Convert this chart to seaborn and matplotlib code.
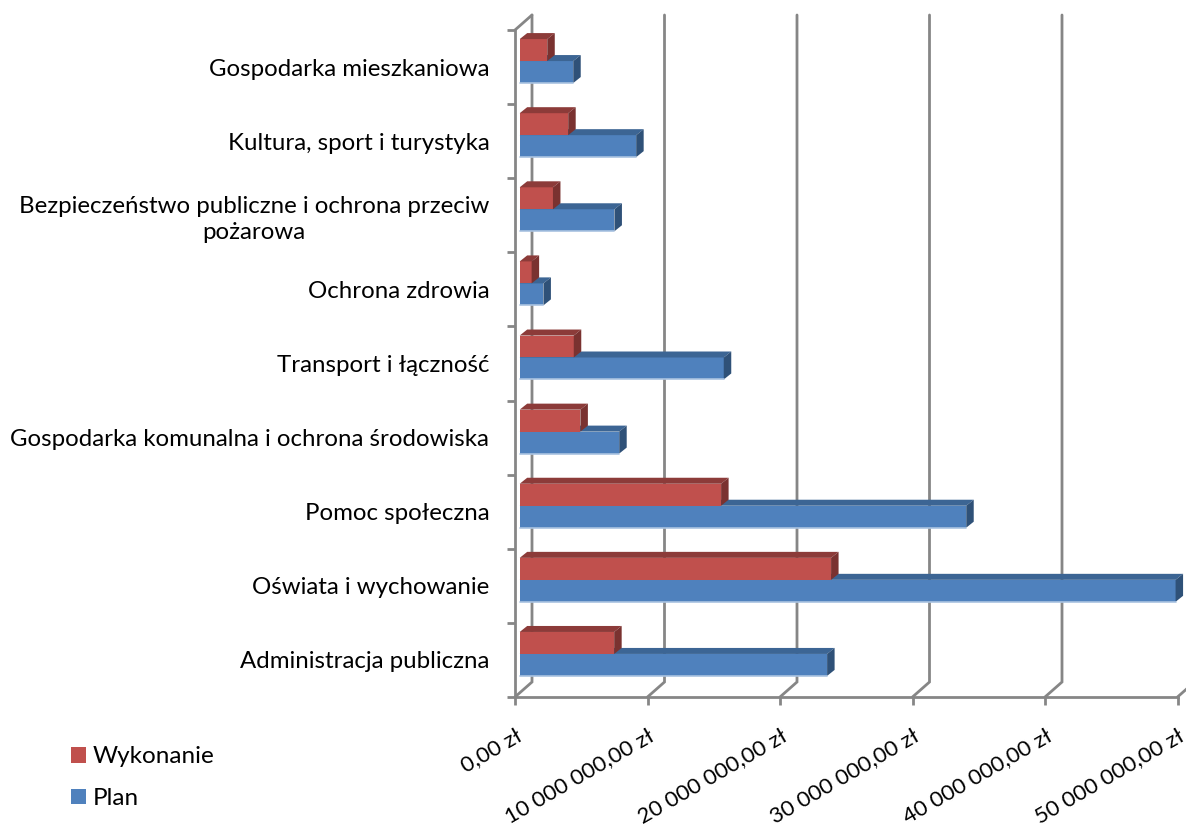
import pandas
import seaborn
import matplotlib.pyplot as plt
from matplotlib.patches import Polygon

categories = ['Gospodarka mieszkaniowa', 'Kultura, sport i turystyka',
              'Bezpieczeństwo publiczne i ochrona przeciw\npożarowa', 'Ochrona zdrowia',
              'Transport i łączność', 'Gospodarka komunalna i ochrona środowiska',
              'Pomoc społeczna', 'Oświata i wychowanie', 'Administracja publiczna']
wykonanie = [2080000, 3660000, 2510000, 900000, 4080000, 4580000, 15200000, 23500000, 7130000]
plan = [4040000, 8790000, 7150000, 1790000, 15400000, 7510000, 33700000, 49500000, 23200000]
x_ticks = [0, 10000000, 20000000, 30000000, 40000000, 50000000]
x_labels = ['0,00 zł', '10 000 000,00 zł', '20 000 000,00 zł', '30 000 000,00 zł',
            '40 000 000,00 zł', '50 000 000,00 zł']

W, H = 1186, 827
LEFT, RIGHT, TOP, BOTTOM = 515, 1177.5, 30, 697
GRAY = '#868686'
PX_X = 50000000 / (RIGHT - LEFT)  # zl per pixel
PX_Y = 9 / (BOTTOM - TOP)  # category per pixel

seaborn.set_style('white')
plt.rcParams['font.family'] = ['Lato', 'DejaVu Sans']

df = pandas.DataFrame({
    'category': categories * 2,
    'value': wykonanie + plan,
    'series': ['Wykonanie'] * len(categories) + ['Plan'] * len(categories),
})

fig = plt.figure(figsize=(W / 100, H / 100), dpi=100)
ax = fig.add_axes([LEFT / W, 1 - BOTTOM / H, (RIGHT - LEFT) / W, (BOTTOM - TOP) / H])
ax.patch.set_visible(False)

seaborn.barplot(df, x='value', y='category', hue='series', orient='y', ax=ax,
                hue_order=['Wykonanie', 'Plan'], palette=['#C0504D', '#4F81BD'],
                saturation=1, width=0.593, gap=0, linewidth=0)

ax.set_xlim(0, 50000000)
ax.set_ylim(8.5, -0.5)
ax.set_xlabel('')
ax.set_ylabel('')

# back wall lines with the slanted foot
back_x = 17 * PX_X
back_y = 15 * PX_Y
for t in x_ticks:
    ax.plot([t, t + back_x, t + back_x], [8.5, 8.5 - back_y, -0.5 - back_y],
            color=GRAY, lw=2, zorder=1, clip_on=False, solid_joinstyle='miter')
ax.plot([0, back_x], [-0.5, -0.5 - back_y], color=GRAY, lw=2, zorder=1, clip_on=False)

# fake 3d on the bars
shift_x = 4.7 * PX_X
shift_y = 6 * PX_Y
side_x = 7.5 * PX_X
side_y = 6 * PX_Y
styles = {0: ('#8C3B39', '#7A3230', '#D9928F', 4), 1: ('#3C6594', '#2F5178', '#A9C2E0', 3)}
bars = ax.containers
for n, container in enumerate(bars):
    top_c, side_c, light_c, z = styles[n]
    for p in container:
        p.set_x(p.get_x() + shift_x)
        p.set_y(p.get_y() - shift_y)
        p.set_zorder(z)
        p.set_clip_on(False)
        x0 = p.get_x()
        x1 = x0 + p.get_width()
        y0 = p.get_y()
        y1 = y0 + p.get_height()
        ax.add_patch(Polygon([(x0, y0), (x0 + side_x, y0 - side_y), (x1 + side_x, y0 - side_y), (x1, y0)],
                             facecolor=top_c, edgecolor='none', zorder=z, clip_on=False))
        ax.add_patch(Polygon([(x1, y0), (x1 + side_x, y0 - side_y), (x1 + side_x, y1 - side_y), (x1, y1)],
                             facecolor=side_c, edgecolor='none', zorder=z, clip_on=False))
        if n == 1:
            ax.plot([x0, x1], [y1, y1], color=light_c, lw=1.2, zorder=z, clip_on=False)

seaborn.despine(ax=ax)
for s in ['left', 'bottom']:
    ax.spines[s].set_color(GRAY)
    ax.spines[s].set_linewidth(2)
    ax.spines[s].set_zorder(2)

ax.set_xticks(x_ticks)
ax.set_xticklabels(x_labels, rotation=30, ha='right', rotation_mode='anchor', fontsize=16, color='black')
ax.tick_params(axis='x', length=6, width=2, color=GRAY, pad=14.5, bottom=True)
ax.set_yticks(range(len(categories)))
ax.set_yticklabels(categories, fontsize=17.3, color='black', multialignment='center', linespacing=1.3)
ax.set_yticks([i - 0.5 for i in range(len(categories) + 1)], minor=True)
ax.tick_params(axis='y', which='major', length=0, pad=18.5)
ax.tick_params(axis='y', which='minor', length=6, width=2, color=GRAY, left=True)

handles, labels = ax.get_legend_handles_labels()
leg = ax.legend(handles, labels, loc='upper left', bbox_to_anchor=(64 / W, 1 - 739 / H),
                bbox_transform=fig.transFigure, frameon=False, fontsize=17.5, handlelength=0.62,
                handleheight=0.62, handletextpad=0.27, labelspacing=0.85, borderpad=0.3, borderaxespad=0)
for txt in leg.get_texts():
    txt.set_color('black')

fig.savefig('out.png', dpi=100)
